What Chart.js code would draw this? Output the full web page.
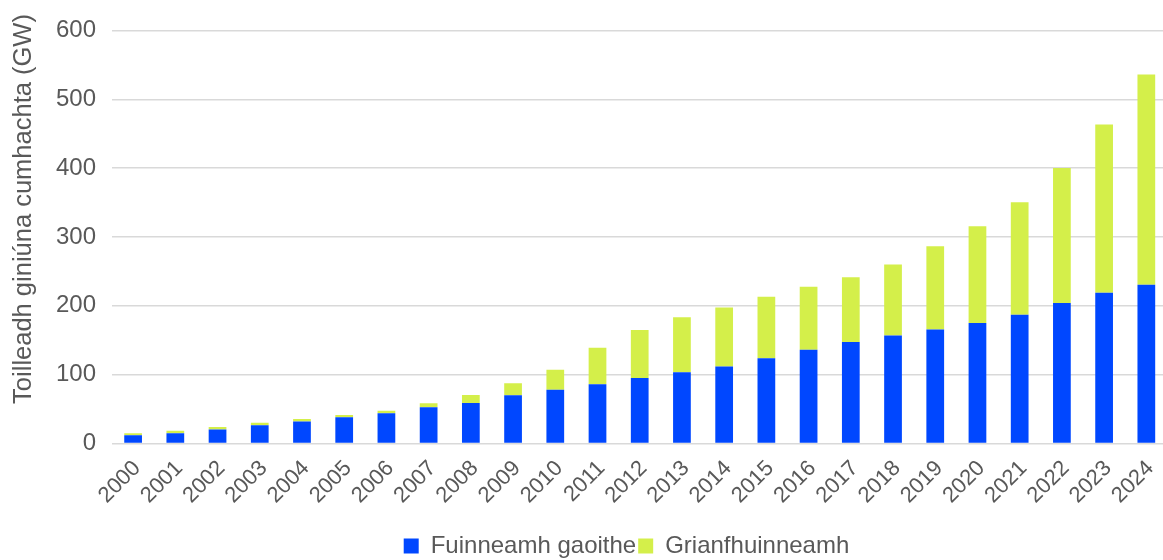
<!DOCTYPE html>
<html>
<head>
<meta charset="utf-8">
<script src="https://cdn.jsdelivr.net/npm/chart.js@4/dist/chart.umd.min.js"></script>
<style>
  html, body { margin: 0; padding: 0; background: #fff; overflow: hidden; }
  #wrap { position: relative; width: 1169px; height: 568px; }
</style>
</head>
<body>
<div id="wrap"><canvas id="capacityChart"></canvas></div>
<script>
const years = ['2000','2001','2002','2003','2004','2005','2006','2007','2008','2009','2010','2011',
  '2012','2013','2014','2015','2016','2017','2018','2019','2020','2021','2022','2023','2024'];
const windGW = [12, 15, 20.5, 26.5, 32, 38, 44, 52.5, 59, 70, 78, 86,
  95, 103.5, 112, 124, 136, 147.5, 157, 165.5, 175, 187, 204, 219, 230.5];
const solarGW = [3, 3.5, 3.5, 3.5, 3.5, 3.5, 3.5, 6, 11.5, 17.5, 29, 53,
  70, 80, 85.5, 89, 91.5, 94, 103, 121, 140.5, 163.5, 196, 244.5, 305.5];
const yTicks = [0, 100, 200, 300, 400, 500, 600];
const yTitle = 'Toilleadh giniúna cumhachta (GW)';

const textGrey = '#595959';
const font = 'Liberation Sans, Arial, sans-serif';

// y axis title drawn by hand so it can sit a bit higher than the plot centre, like the original
const yTitlePlugin = {
  id: 'yTitle',
  afterLayout(chart) {
    // legend in the original sits a little right of the canvas centre
    chart.legend.left += 38;
    chart.legend.right += 38;
  },
  afterDraw(chart) {
    const c = chart.ctx;
    c.save();
    c.translate(24, 209);
    c.rotate(-Math.PI / 2);
    c.fillStyle = textGrey;
    c.font = '25.5px ' + font;
    c.textAlign = 'center';
    c.textBaseline = 'middle';
    c.fillText(yTitle, 0, 0);
    c.restore();
  }
};

new Chart(document.getElementById('capacityChart'), {
  type: 'bar',
  data: {
    labels: years,
    datasets: [
      { label: 'Fuinneamh gaoithe', data: windGW, backgroundColor: '#0047ff', borderWidth: 0 },
      { label: 'Grianfhuinneamh', data: solarGW, backgroundColor: '#d4ef4a', borderWidth: 0 }
    ]
  },
  options: {
    responsive: true,
    maintainAspectRatio: false,
    animation: false,
    layout: { padding: { top: 22, bottom: 0, left: 8, right: 0 } },
    datasets: { bar: { barPercentage: 0.42, categoryPercentage: 1 } },
    scales: {
      x: {
        stacked: true,
        afterFit: s => { s.height = 88.5; },
        grid: { display: false },
        border: { display: false },
        ticks: { color: textGrey, font: { family: font, size: 22 }, maxRotation: 45, minRotation: 45,
          padding: 4, labelOffset: 4 }
      },
      y: {
        stacked: true,
        min: 0, max: 600,
        afterBuildTicks: s => { s.ticks = yTicks.map(v => ({ value: v })); },
        afterFit: s => { s.width = 104; },
        grid: { color: '#d9d9d9', lineWidth: 1.5, drawTicks: false },
        border: { display: false },
        ticks: { color: textGrey, font: { family: font, size: 24 }, padding: 16 }
      }
    },
    plugins: {
      legend: {
        position: 'bottom',
        labels: { color: textGrey, font: { family: font, size: 24 }, boxWidth: 15, boxHeight: 15, padding: 2 }
      },
      tooltip: { enabled: false }
    }
  },
  plugins: [yTitlePlugin]
});
</script>
</body>
</html>
